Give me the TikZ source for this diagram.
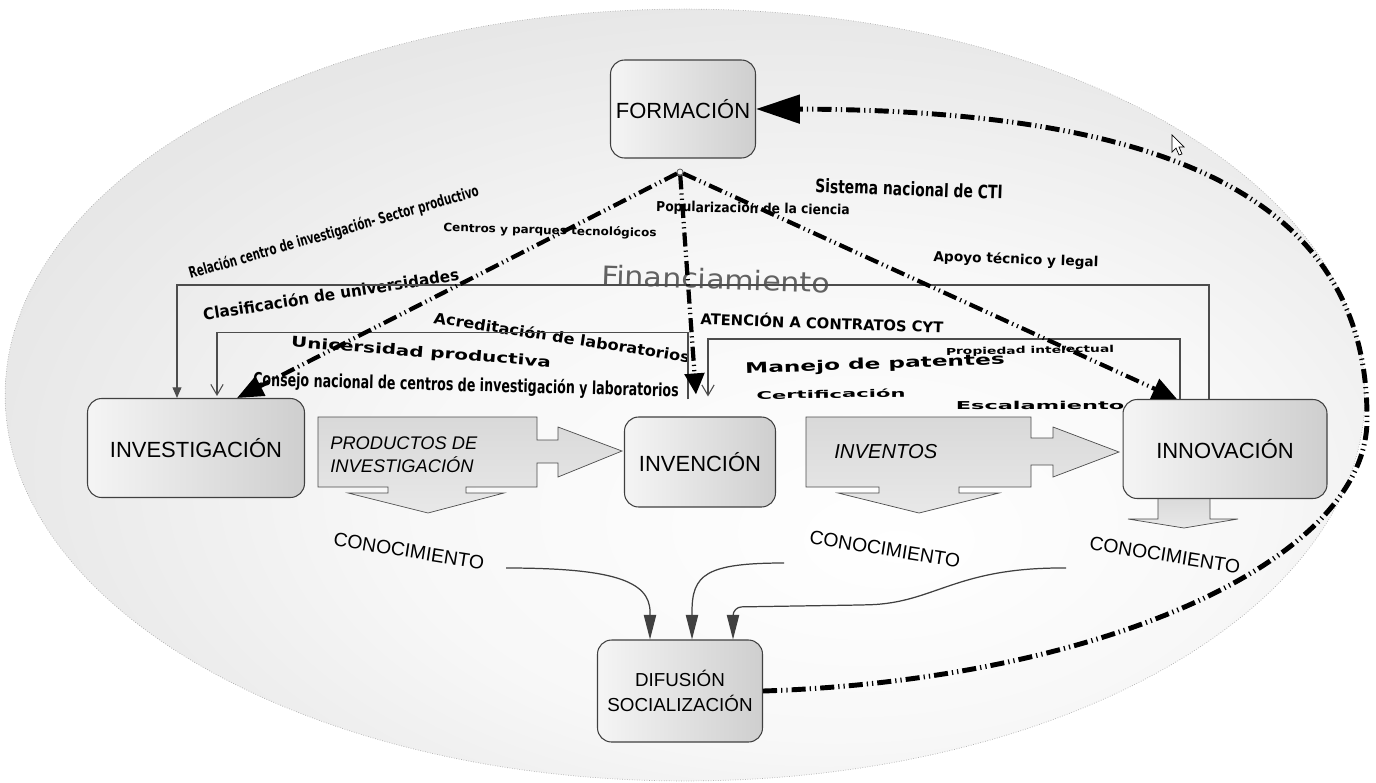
\documentclass[tikz,border=0pt]{standalone}
\usepackage{fontspec}
\usepackage{graphicx}
\setmainfont{Liberation Sans}
\newfontfamily\dejavu{DejaVu Sans}
\usetikzlibrary{arrows.meta,calc,positioning}
\pgfdeclareradialshading{ovalshade}{\pgfpoint{8bp}{-10bp}}{color(0bp)=(white); color(16bp)=(white!97!black); color(50bp)=(black!19)}
\newcommand{\lbltxt}[3]{\scalebox{#1}[1]{\fontsize{#2}{#2}\selectfont #3}}
\tikzset{
	stage/.style={draw=black!75, semithick, rounded corners=8pt,
		left color=gray!8, right color=gray!38, inner sep=0pt,
		font=\fontsize{12.5}{15}\selectfont, align=center},
	flowblock/.style={draw=black!70, thin, top color=gray!30, bottom color=gray!18},
	flowtext/.style={inner sep=0pt, anchor=west, align=left,
		font=\itshape\fontsize{10.4}{13}\selectfont},
	lbl/.style={inner sep=0pt, font=\dejavu\bfseries},
	know/.style={inner sep=0pt, rotate=-9, font=\fontsize{11}{13}\selectfont},
	dashdot/.style={line width=2.4pt,
		dash pattern=on 8pt off 2.3pt on 0.7pt off 2.3pt on 0.7pt off 2.3pt},
	link/.style={draw=black!70, line width=0.6pt},
	knowlink/.style={draw=black!75, line width=0.7pt, -{Triangle[length=14pt,width=7pt]}}
}

\begin{document}
\begin{tikzpicture}[x=0.02cm, y=-0.02cm]
	\useasboundingbox (0,0) rectangle (1376,782);
	% background oval
	\path[shade, shading=ovalshade, draw=gray!65, densely dotted] (685,395) ellipse [x radius=13.6cm, y radius=7.72cm];

	% block arrows
	\draw[flowblock] (318,417) -- (537,417) -- (537,440) -- (558,440) -- (558,427) -- (622,451)
		-- (558,477) -- (558,463) -- (537,463) -- (537,487) -- (466,487) -- (466,493) -- (504,493)
		-- (428,513) -- (348,493) -- (388,493) -- (388,487) -- (318,487) -- cycle;
	\draw[flowblock] (806,417) -- (1031,417) -- (1031,438) -- (1053,438) -- (1053,427) -- (1119,452)
		-- (1053,477) -- (1053,465) -- (1031,465) -- (1031,487) -- (959,487) -- (959,493) -- (999,493)
		-- (919,513) -- (838,493) -- (879,493) -- (879,487) -- (806,487) -- cycle;
	\draw[flowblock] (1158,495) -- (1158,519) -- (1128,519) -- (1184,528) -- (1238,519)
		-- (1210,519) -- (1210,495) -- cycle;

	% stages
	\node[stage, minimum width=2.9cm, minimum height=1.96cm] (form) at (683,109) {FORMACIÓN};
	\node[stage, minimum width=4.34cm, minimum height=1.98cm] (invest) at (196,448) {INVESTIGACIÓN};
	\node[stage, minimum width=3.02cm, minimum height=1.8cm] (inven) at (700,462) {INVENCIÓN};
	\node[stage, minimum width=4.08cm, minimum height=1.98cm] (innov) at (1225,449) {INNOVACIÓN};
	\node[stage, minimum width=3.3cm, minimum height=2.04cm,
		font=\fontsize{10.7}{14.7}\selectfont] (difu) at (680,691) {DIFUSIÓN\\SOCIALIZACIÓN};
	\node[circle, draw=black!70, thin, inner sep=0pt, minimum size=0.12cm] (hub) at (680,172) {};

	\node[flowtext] (prodtxt) at (330,455) {PRODUCTOS DE\\INVESTIGACIÓN};
	\node[flowtext, font=\itshape\fontsize{11.5}{13}\selectfont] (inventxt) at (834,452) {INVENTOS};
	\node[know] (know1) at (409,551) {CONOCIMIENTO};
	\node[know] (know2) at (885,549) {CONOCIMIENTO};
	\node[know] (know3) at (1165,555) {CONOCIMIENTO};

	% labels
	\node[lbl, rotate=16] (relacion) at (334,233) {\lbltxt{0.665}{8.8pt}{Relación centro de investigación- Sector productivo}};
	\node[lbl, rotate=-1.5] (centros) at (550,231) {\lbltxt{1.05}{6.5pt}{Centros y parques tecnológicos}};
	\node[lbl, rotate=-1] (popular) at (753,209) {\lbltxt{0.9}{7.8pt}{Popularización de la ciencia}};
	\node[lbl, rotate=-2] (sistema) at (909,189) {\lbltxt{0.753}{10.5pt}{Sistema nacional de CTI}};
	\node[lbl, rotate=-2] (apoyo) at (1016,260) {\lbltxt{1}{7.8pt}{Apoyo técnico y legal}};
	\node[lbl, font=\dejavu, text=black!62, rotate=-2] (financ) at (716,279) {\lbltxt{1.12}{15.3pt}{Financiamiento}};
	\node[lbl, rotate=9] (clasif) at (331,294) {\lbltxt{0.95}{9.1pt}{Clasificación de universidades}};
	\node[lbl, rotate=-8.8] (acredit) at (562,337) {\lbltxt{1.08}{8.5pt}{Acreditación de laboratorios}};
	\node[lbl, rotate=-4.5] (univprod) at (421,353) {\lbltxt{1.38}{8.2pt}{Unicersidad productiva}};
	\node[lbl, rotate=-1.5] (consejo) at (466,386) {\lbltxt{0.705}{10.2pt}{Consejo nacional de centros de investigación y laboratorios}};
	\node[lbl, rotate=-2] (atencion) at (822,322) {\lbltxt{1}{8.4pt}{ATENCIÓN A CONTRATOS CYT}};
	\node[lbl, rotate=2] (patentes) at (875,365) {\lbltxt{1.59}{8.3pt}{Manejo de patentes}};
	\node[lbl, rotate=1] (propiedad) at (1030,351) {\lbltxt{1.46}{5.4pt}{Propiedad intelectual}};
	\node[lbl, rotate=1] (certif) at (831,394) {\lbltxt{2}{6pt}{Certificación}};
	\node[lbl] (escala) at (1040,405) {\lbltxt{2.06}{6.2pt}{Escalamiento}};

	% thin links
	\draw[link, -{Triangle[length=6pt,width=5pt]}] ($(innov.north)+(-16,0)$) -- ++(0,-114) -| ($(invest.north)+(-19,0)$);
	\draw[link, -{Straight Barb[length=6pt,width=7pt]}] ($(innov.north)+(-45,0)$) -- ++(0,-60) -| ($(inven.north)+(8,-20)$);
	\draw[link, -{Straight Barb[length=6pt,width=7pt]}] ($(inven.north)+(-12,-17)$) -- ++(0,-67) -| ($(invest.north)+(21,-2)$);

	% knowledge to diffusion
	\coordinate (k1) at (506,568);
	\coordinate (k2) at (784,563);
	\coordinate (k3) at (1066,568);
	\draw[knowlink] (k1) .. controls (610,568) and (650,580) .. (650,612) -- ($(difu.north)+(-30,0)$);
	\draw[knowlink] (k2) .. controls (705,563) and (692,575) .. (692,612) -- ($(difu.north)+(12,0)$);
	\draw[knowlink, rounded corners=5pt] (k3) .. controls (955,567) and (935,603) .. (860,605) -- (733,607) -- ($(difu.north)+(53,0)$);

	% dash-dot links from formacion
	\draw[dashdot, -{Triangle[length=15pt,width=12pt]}] (hub) -- ($(invest.north)+(41,0)$);
	\draw[dashdot, -{Triangle[length=12pt,width=11pt]}] (hub) -- ($(inven.north)+(-4,-22)$);
	\draw[dashdot, -{Triangle[length=14pt,width=12pt]}] (hub) -- ($(innov.north)+(-48,0)$);
	\coordinate (swing) at (1367,417);
	\draw[dashdot, line width=2.8pt, -{Triangle[length=25pt,width=16pt]}] (difu.east)
		.. controls (1100,680) and (1370,560) .. (swing)
		.. controls (1367,190) and (1150,110) .. (form.east);

	% pointer
	\draw[fill=white, line width=0.4pt] (1172,135) -- ++(0,17) -- ++(4,-4) -- ++(3,7) -- ++(3,-1)
		-- ++(-3,-7) -- ++(5,0) -- cycle;
\end{tikzpicture}
\end{document}
